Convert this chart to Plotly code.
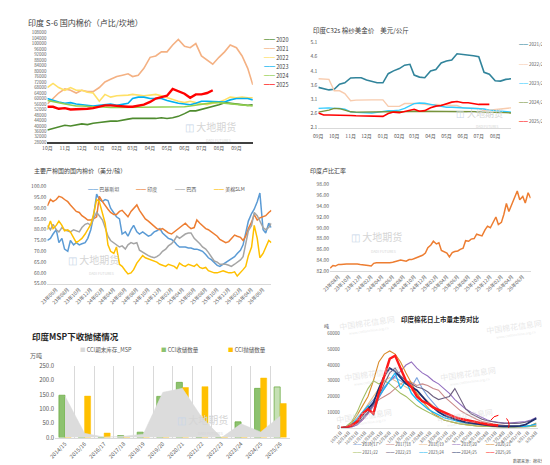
import plotly.graph_objects as go
import pandas as pd

W, H = 550, 465
FONT = "Noto Sans CJK SC"

# ---------------- Panel 1: 印度 S-6 国内棉价 ----------------
p1_months = [(2024, 10), (2024, 11), (2024, 12), (2025, 1), (2025, 2), (2025, 3),
             (2025, 4), (2025, 5), (2025, 6), (2025, 7), (2025, 8), (2025, 9)]
p1_dates = [f"{y}-{m:02d}-{d:02d}" for y, m in p1_months for d in (1, 11, 21)] + ["2025-09-30"]
p1_names = ["2020", "2021", "2022", "2023", "2024", "2025"]
p1_2020 = [37000, 38000, 39500, 40500, 40000, 40500, 41500, 41000, 42000, 42500, 43000, 43500,
           43500, 44500, 45000, 45500, 45500, 45000, 45000, 45500, 46000, 45500, 46000, 47000,
           49000, 51000, 51000, 52000, 53000, 54000, 55500, 57000, 56500, 56000, 55500, 55000, 55500]
p1_2021 = [56000, 60000, 64000, 67000, 66000, 64000, 66000, 65000, 65000, 68000, 72000, 74000,
           76000, 77000, 78000, 76000, 77000, 82000, 90000, 91000, 94000, 94000, 99000, 103000,
           98000, 97000, 100000, 91000, 88000, 85000, 90000, 94000, 99000, 97000, 91000, 82000, 70000]
p1_2022 = [68000, 71000, 68000, 66000, 68000, 66000, 66000, 64500, 64000, 58000, 63000, 61000,
           62000, 62000, 62500, 63000, 62500, 62000, 62500, 63000, 62000, 60500, 59000, 58000,
           57000, 58000, 57000, 56000, 55500, 56500, 57500, 59000, 61000, 60500, 61000, 60500, 60500]
p1_2023 = [60000, 58500, 57500, 56500, 57000, 56000, 55500, 55000, 54500, 55000, 55500, 56000,
           55000, 55500, 56500, 60000, 61000, 61000, 60000, 60000, 60000, 58500, 57500, 56500,
           56000, 55500, 56500, 58000, 58000, 58000, 58000, 57500, 59000, 60000, 60000, 60000, 59000]
p1_2024 = [58500, 57500, 57000, 56000, 55000, 54500, 54500, 54000, 54000, 54000, 53500, 53500,
           53500, 53500, 53500, 53500, 53500, 54000, 54000, 54000, 54000, 54000, 54000, 54000,
           54000, 54500, 55000, 55500, 56500, 57000, 57000, 56500, 56000, 55500, 55000, 54500, 54500]
p1_2025 = [54000, 54000, 52500, 53000, 52000, 52000, 52000, 52500, 53000, 54000, 55000, 55000,
           54500, 54000, 54000, 54000, 54500, 55500, 57500, 60000, 61000, 62000, 67000, 65500,
           63500, 60500, 63000, 63000, 64000, 66000]
p1_series = [p1_2020, p1_2021, p1_2022, p1_2023, p1_2024, p1_2025]
p1_colors = ["#4E8B2E", "#F4B183", "#FFE066", "#00B0F0", "#92D050", "#FF0000"]
p1_widths = [1.6, 1.6, 1.6, 1.6, 1.6, 2.4]

# ---------------- Panel 2: 印度C32s 棉纱美金价 ----------------
p2_months = [(2025, 9), (2025, 10), (2025, 11), (2025, 12), (2026, 1), (2026, 2),
             (2026, 3), (2026, 4), (2026, 5), (2026, 6), (2026, 7), (2026, 8)]
p2_dates = [f"{y}-{m:02d}-{d:02d}" for y, m in p2_months for d in (1, 11, 21)] + ["2026-08-31"]
p2_names = ["2021/22", "2022/23", "2023/24", "2024/25", "2025/26"]
p2_2122 = [3.52, 3.48, 3.43, 3.45, 3.63, 3.68, 3.85, 3.86, 3.86, 3.78, 3.72, 3.68, 3.68, 4.0,
           4.1, 4.18, 4.3, 4.33, 3.95, 3.88, 3.86, 4.1, 4.15, 4.38, 4.45, 4.48, 4.7, 4.68, 4.65,
           4.63, 4.6, 4.05, 3.98, 3.75, 3.74, 3.8, 3.82]
p2_2223 = [3.82, 3.82, 3.8, 3.4, 3.4, 3.3, 3.05, 3.07, 3.08, 3.08, 3.08, 3.08, 3.08, 2.85,
           2.85, 2.85, 2.95, 2.95, 2.95, 2.95, 2.92, 2.9, 2.92, 2.92, 2.9, 2.88, 2.88, 2.8, 2.8,
           2.8, 2.78, 2.7, 2.72, 2.72, 2.75, 2.78, 2.8]
p2_2324 = [2.78, 2.8, 2.8, 2.78, 2.78, 2.75, 2.66, 2.64, 2.63, 2.62, 2.62, 2.64, 2.68, 2.7,
           2.7, 2.72, 2.78, 2.88, 2.95, 2.97, 2.96, 2.92, 2.88, 2.85, 2.82, 2.82, 2.81, 2.8, 2.8,
           2.79, 2.78, 2.76, 2.72, 2.7, 2.68, 2.66, 2.65]
p2_2425 = [2.65, 2.68, 2.72, 2.78, 2.77, 2.72, 2.66, 2.65, 2.65, 2.66, 2.66, 2.66, 2.66, 2.66,
           2.66, 2.67, 2.67, 2.67, 2.68, 2.68, 2.68, 2.68, 2.68, 2.68, 2.68, 2.68, 2.68, 2.67,
           2.67, 2.66, 2.66, 2.65, 2.65, 2.64, 2.63, 2.63, 2.62]
p2_2526 = [2.62, 2.55, 2.55, 2.55, 2.54, 2.53, 2.53, 2.52, 2.52, 2.5, 2.5, 2.5, 2.5, 2.6, 2.65,
           2.63, 2.68, 2.72, 2.75, 2.68, 2.7, 2.8, 2.86, 2.88, 2.95, 3.0, 3.02, 2.98, 2.98, 2.95,
           2.92, 2.92, 2.92]
p2_series = [p2_2122, p2_2223, p2_2324, p2_2425, p2_2526]
p2_colors = ["#31849B", "#F8CBAD", "#33CCFF", "#77933C", "#FF0000"]
p2_widths = [1.6, 1.4, 1.4, 1.4, 1.6]

# ---------------- Panel 3: 主要产棉国的国内棉价 ----------------
p3_dates = pd.date_range("2023-04-15", periods=79, freq="SMS")
p3_names = ["巴基斯坦", "印度", "巴西", "美棉SLM"]
p3_pak = [75, 76, 78, 80, 74, 76, 71, 70, 75, 73, 74, 73, 73.5, 74, 76, 80, 86, 96.5, 94, 93,
          94, 93.5, 90, 87.5, 86, 85, 78, 79, 77, 80, 82, 79, 78, 79, 78, 77, 77.5, 79, 79.5, 80.5,
          78.5, 77, 76, 75.5, 74.5, 73, 72, 72, 72, 71.5, 71.5, 71, 71, 70.5, 70, 68.5, 67, 66, 65,
          63.5, 63, 64, 65, 66, 66.5, 67.5, 69, 70.5, 73, 78, 84, 87.5, 89.5, 93, 97, 80, 78.5, 83, 81]
p3_ind = [91, 94, 93, 94, 95.5, 95, 94, 93, 91.5, 90, 88.5, 88, 86.5, 85.5, 84.5, 84.5, 85, 86,
          95.5, 93, 91, 89.5, 88, 87, 87, 88.5, 89, 87.5, 86, 88.5, 90, 91.5, 89, 87, 85, 84, 83,
          81.5, 80.5, 80, 80.5, 79.5, 78.5, 78, 79, 80, 81, 82, 83, 81.5, 80.5, 81, 84.5, 83, 82,
          80.5, 80, 79, 78, 77, 75.5, 74.5, 74, 74.5, 76, 77.5, 77, 76.5, 75, 77, 80.5, 83.5, 87,
          84.5, 85.5, 86, 86.5, 88, 89]
p3_bra = [82, 80, 82.5, 80, 79, 81, 80, 79.5, 79, 80, 79.5, 79, 81, 82.5, 83, 82, 85, 88, 86.5,
          84.5, 81, 77, 75, 74, 73, 72, 72.5, 71, 73, 74, 73.5, 74, 70.5, 69.5, 69, 68, 67.5, 67,
          67.5, 68.5, 70, 71, 72.5, 73.5, 75, 77, 76, 77, 78, 78.5, 78.5, 76, 75, 73.5, 72, 71,
          69.5, 67.5, 65.5, 65, 64, 64, 64, 63.5, 63, 64, 65, 66, 67.5, 74, 79.5, 82, 88, 86.5, 84,
          81, 80, 81, 83]
p3_us = [80, 84, 80.5, 82, 84, 82, 79.5, 80, 79, 76, 74, 75, 76, 78, 80, 82.5, 87, 94, 93, 88,
         83, 73, 70, 69, 72, 64, 63, 61, 59.5, 60, 61.5, 64.5, 66, 68, 67, 66.5, 66, 65.5, 65, 64,
         63.5, 63, 64, 63.5, 63, 62, 64.5, 63.5, 63, 64, 63.5, 63, 64, 62.5, 62, 62.5, 61, 60.5, 60,
         60, 60.5, 61, 60.5, 60, 60, 60.5, 58.5, 60, 61.5, 63, 68, 72, 82, 76, 67, 69, 72, 75, 74]
p3_series = [p3_pak, p3_ind, p3_bra, p3_us]
p3_colors = ["#5B9BD5", "#ED7D31", "#A5A5A5", "#FFC000"]

# ---------------- Panel 4: 印度卢比汇率 ----------------
p4_dates = pd.date_range("2023-06-15", periods=75, freq="SMS")
p4_inr = [82.5, 83.0, 82.9, 83.2, 83.2, 83.3, 83.3, 83.3, 83.3, 83.4, 83.3, 83.2, 83.1, 83.1,
          83.0, 82.9, 83.4, 83.5, 83.5, 83.4, 83.4, 83.5, 83.5, 83.6, 83.8, 83.9, 84.0, 83.9, 83.8,
          84.1, 84.1, 84.3, 84.5, 84.6, 84.9, 85.3, 86.3, 86.8, 87.5, 87.0, 87.2, 85.8, 85.6, 85.3,
          84.6, 85.4, 85.6, 85.7, 86.0, 86.2, 87.6, 87.5, 87.9, 88.0, 88.8, 88.7, 88.5, 89.6, 90.3,
          90.0, 90.8, 92.0, 90.6, 91.0, 92.5, 94.5, 93.0, 94.5, 95.5, 96.8, 95.2, 95.8, 94.6, 96.5, 95.5]

# ---------------- Panel 5: 印度MSP下收抛储情况 ----------------
p5_seasons = ["2014/15", "2015/16", "2016/17", "2017/18", "2018/19", "2019/20",
              "2020/21", "2021/22", "2022/23", "2023/24", "2024/25", "2025/26"]
p5_names = ["CCI期末库存_MSP", "CCI收储数量", "CCI抛储数量"]
p5_stock = [145, 15, 2, 5, 12, 158, 172, 70, 0, 48, 20, 75]
p5_buy = [148, 16, 1, 7, 19, 144, 193, 0, 0, 55, 172, 177]
p5_sell = [3, 145, 16, 3, 4, 3, 175, 178, 2, 2, 208, 119]
p5_buy_fill = ["#8DC26F"] * 11 + ["#C5E0B4"]

# ---------------- Panel 6: 印度棉花日上市量走势对比 ----------------
p6_dates = pd.date_range("2025-10-01", periods=37, freq="10D")
p6_names = ["2016/17", "2017/18", "2018/19", "2019/20", "2020/21",
            "2021/22", "2022/23", "2023/24", "2024/25", "2025/26"]
s1617 = [0, 0, 1000, 4000, 9000, 14000, 18000, 22000, 26000, 30000, 32000, 30000, 28000, 26000,
         32000, 25000, 20000, 16000, 12000, 9000, 7000, 5500, 4500, 3500, 3000, 2500, 2000, 1500,
         1000, 800, 600, 500, 400, 400, 500, 800, 1500]
s1718 = [0, 0, 500, 2000, 5000, 9000, 14000, 18000, 20000, 22000, 25000, 28000, 30000, 29000,
         27000, 28000, 27000, 25000, 24000, 20000, 17000, 14000, 11000, 9000, 7000, 5500, 4000,
         3000, 2500, 2000, 1500, 1200, 1000, 900, 900, 1200, 2000]
s1819 = [0, 500, 2000, 5000, 10000, 15000, 20000, 25000, 30000, 32000, 30000, 28000, 26000,
         24000, 22000, 20000, 17000, 14000, 11000, 8000, 6000, 4500, 3500, 2800, 2200, 1800, 1500,
         1200, 1000, 800, 700, 600, 500, 500, 600, 800, 1200]
s1920 = [0, 0, 500, 2000, 5000, 9000, 14000, 19000, 25000, 30000, 33000, 36000, 40000, 42000,
         38000, 35000, 33000, 30000, 28000, 25000, 22000, 18000, 15000, 12000, 10000, 8000, 6500,
         5000, 4000, 3500, 3000, 3000, 3200, 3500, 4000, 5000, 6500]
s2021 = [0, 500, 3000, 8000, 14000, 20000, 30000, 42000, 47000, 49000, 47000, 42000, 35000,
         28000, 22000, 17000, 13000, 9000, 7000, 5000, 4000, 3000, 2500, 2000, 1500, 1200, 1000,
         800, 700, 600, 500, 500, 500, 600, 800, 1500, 3000]
s2122 = [0, 1000, 4000, 10000, 18000, 25000, 30000, 28000, 30000, 28000, 25000, 22000, 20000,
         17000, 14000, 12000, 10000, 8000, 6500, 5000, 4000, 3200, 2500, 2000, 1500, 1200, 1000,
         800, 600, 500, 400, 400, 400, 500, 600, 800, 1000]
s2223 = [0, 300, 1000, 3000, 6000, 10000, 15000, 20000, 28000, 35000, 38000, 33000, 30000,
         28000, 26000, 25000, 23000, 20000, 18000, 19000, 20000, 25000, 18000, 12000, 9000, 7000,
         5500, 4500, 3800, 3200, 3000, 2800, 2800, 3000, 3500, 4500, 6000]
s2324 = [0, 500, 2000, 6000, 10000, 14000, 8000, 20000, 25000, 30000, 35000, 25000, 30000,
         22000, 18000, 15000, 12000, 10000, 8000, 6500, 5500, 4500, 3800, 3200, 2800, 2400, 2000,
         1600, 1300, 1000, 800, 700, 700, 800, 1000, 1500, 2500]
s2425 = [0, 300, 1500, 4000, 8000, 12000, 16000, 25000, 33000, 38000, 36000, 32000, 28000,
         26000, 24000, 20000, 16000, 13000, 10000, 8000, 6500, 5500, 4500, 3500, 3000, 2500, 2000,
         1500, 1200, 1000, 900, 900, 1000, 1200, 2000, 4000, 6000]
s2526 = [0, 300, 1500, 4000, 9000, 12000, 9000, 22000, 33000, 44000, 46000, 38000, 30000, 26000,
         20000, 17000, 15500, 13000, 11500, 9500, 8000, 6800, 5800, 5000, 4200, 3500, 2800, 2200,
         1800, 1500]
p6_series = [s1617, s1718, s1819, s1920, s2021, s2122, s2223, s2324, s2425, s2526]
p6_colors = ["#7EA6E0", "#C98A8A", "#EBC08E", "#9470C0", "#D98B2B",
             "#A3BD62", "#6E6080", "#1BB7F2", "#1F2F6E", "#FF1A1A"]
p6_widths = [1.1, 1.1, 1.1, 1.1, 1.1, 1.1, 1.1, 1.3, 1.8, 2.4]

# ============================================================
fig = go.Figure()

for name, ys, c, w in zip(p1_names, p1_series, p1_colors, p1_widths):
    fig.add_trace(go.Scatter(x=p1_dates[:len(ys)], y=ys, name=name, mode="lines",
                             line=dict(color=c, width=w), xaxis="x", yaxis="y", showlegend=False))

for name, ys, c, w in zip(p2_names, p2_series, p2_colors, p2_widths):
    fig.add_trace(go.Scatter(x=p2_dates[:len(ys)], y=ys, name=name, mode="lines",
                             line=dict(color=c, width=w), xaxis="x2", yaxis="y2", showlegend=False))

for name, ys, c in zip(p3_names, p3_series, p3_colors):
    fig.add_trace(go.Scatter(x=p3_dates, y=ys, name=name, mode="lines",
                             line=dict(color=c, width=1.5), xaxis="x3", yaxis="y3", showlegend=False))

fig.add_trace(go.Scatter(x=p4_dates, y=p4_inr, name="印度卢比汇率", mode="lines",
                         line=dict(color="#ED7D31", width=1.5), xaxis="x4", yaxis="y4", showlegend=False))

fig.add_trace(go.Scatter(x=p5_seasons, y=p5_stock, name=p5_names[0], mode="lines",
                         fill="tozeroy", fillcolor="#DCDCDC", line=dict(color="#DCDCDC", width=0.5),
                         xaxis="x5", yaxis="y5", showlegend=False))
fig.add_trace(go.Bar(x=p5_seasons, y=p5_buy, name=p5_names[1],
                     marker=dict(color=p5_buy_fill, line=dict(color="#70AD47", width=0.8)),
                     xaxis="x5", yaxis="y5", showlegend=False))
fig.add_trace(go.Bar(x=p5_seasons, y=p5_sell, name=p5_names[2],
                     marker=dict(color="#FFC000", line=dict(color="#FFC000", width=0.5)),
                     xaxis="x5", yaxis="y5", showlegend=False))

for name, ys, c, w in zip(p6_names, p6_series, p6_colors, p6_widths):
    fig.add_trace(go.Scatter(x=p6_dates[:len(ys)], y=ys, name=name, mode="lines",
                             line=dict(color=c, width=w), xaxis="x6", yaxis="y6", showlegend=False))


def xd(a, b):
    return [a / W, b / W]


def yd(top, bottom):
    return [1 - bottom / H, 1 - top / H]


tick_c = "#595959"
base_ax = dict(showgrid=False, zeroline=False, ticks="", tickfont=dict(size=5, color=tick_c, family=FONT))

fig.update_layout(
    width=W, height=H, margin=dict(l=0, r=0, t=0, b=0),
    paper_bgcolor="white", plot_bgcolor="white",
    font=dict(family=FONT, color="#404040"),
    showlegend=False,
    barmode="group", bargap=0.38, bargroupgap=0.0,
    xaxis=dict(base_ax, domain=xd(28, 238), anchor="y", type="date",
               range=["2024-10-01", "2025-09-30"], tickformat="%m月", dtick="M1", tick0="2024-10-01",
               showline=True, linecolor="#404040", linewidth=1.5),
    yaxis=dict(base_ax, domain=yd(20, 132), anchor="x", range=[28000, 108000], dtick=4000,
               tick0=28000, tickformat="d", tickfont=dict(size=4.4, color=tick_c, family=FONT)),
    xaxis2=dict(base_ax, domain=xd(305, 502), anchor="y2", type="date",
                range=["2025-09-01", "2026-08-31"], tickformat="%m月", dtick="M1", tick0="2025-09-01",
                showline=True, linecolor="#D9D9D9", linewidth=1, ticklabelstandoff=3),
    yaxis2=dict(base_ax, domain=yd(30, 117), anchor="x2", range=[2.1, 5.1], dtick=0.5, tick0=2.1,
                tickformat=".1f"),
    xaxis3=dict(base_ax, domain=xd(28, 257), anchor="y3", type="date",
                range=["2023-04-15", "2026-07-15"], tickformat="%y年%m月", dtick="M2",
                tick0="2023-08-01", tickangle=-45, showline=True, linecolor="#D9D9D9", linewidth=1),
    yaxis3=dict(base_ax, domain=yd(177, 276), anchor="x3", range=[55, 100], dtick=5, tick0=55,
                tickformat=".2f"),
    xaxis4=dict(base_ax, domain=xd(317, 522), anchor="y4", type="date",
                range=["2023-06-15", "2026-07-15"], tickformat="%y年%m月", dtick="M2",
                tick0="2023-08-01", tickangle=-45, showline=True, linecolor="#D9D9D9", linewidth=1),
    yaxis4=dict(base_ax, domain=yd(175, 263), anchor="x4", range=[82, 98], dtick=2, tick0=82,
                tickformat=".2f"),
    xaxis5=dict(base_ax, domain=xd(36, 276), anchor="y5", type="category", tickson="boundaries",
                showgrid=True, gridcolor="#D9D9D9", gridwidth=1, tickangle=-45,
                showline=True, linecolor="#D9D9D9", tickfont=dict(size=5.5, color=tick_c, family=FONT)),
    yaxis5=dict(base_ax, domain=yd(360, 433), anchor="x5", range=[0, 250], dtick=50,
                tickformat=".1f", tickfont=dict(size=6, color=tick_c, family=FONT)),
    xaxis6=dict(base_ax, domain=xd(328, 530), anchor="y6", type="date",
                range=["2025-10-01", "2026-09-30"], tickformat="%-m月%-d日", dtick=15 * 86400000,
                tick0="2025-10-01", tickangle=-45, showline=True, linecolor="#D9D9D9",
                tickfont=dict(size=4, color=tick_c, family=FONT)),
    yaxis6=dict(base_ax, domain=yd(327, 423), anchor="x6", range=[0, 60000], dtick=10000,
                tickformat="d", tickfont=dict(size=4.5, color=tick_c, family=FONT)),
)

ann = []


def text_at(px_, py_, txt, size, color="#404040", anchor="left", bold=False, angle=0, yanchor="middle"):
    if bold:
        txt = f"<b>{txt}</b>"
    ann.append(dict(x=px_ / W, y=1 - py_ / H, xref="paper", yref="paper", xanchor=anchor,
                    yanchor=yanchor, showarrow=False, text=txt, textangle=angle,
                    font=dict(size=size, color=color, family=FONT)))


def legend_item(px_, py_, name, color, size, glyph="━━", tcolor="#404040"):
    ann.append(dict(x=px_ / W, y=1 - py_ / H, xref="paper", yref="paper", xanchor="left",
                    yanchor="middle", showarrow=False,
                    text=f"<span style='color:{color}'>{glyph}</span> {name}",
                    font=dict(size=size, color=tcolor, family=FONT)))


def watermark(px_, py_, size=11):
    text_at(px_, py_, "<span style='color:#C9D6E8'>◫</span> 大地期货", size, color="#D5D5D5",
            anchor="center", yanchor="bottom")
    text_at(px_ + size * 0.8, py_ + 0.5, "DADI FUTURES", size * 0.36, color="#D5D5D5",
            anchor="center", yanchor="top")


# titles
text_at(6, 10, "印度 S-6 国内棉价（卢比/坎地）", 8)
text_at(297, 17, "印度C32s 棉纱美金价 &nbsp; &nbsp;美元/公斤", 6.5)
text_at(12, 161, "主要产棉国的国内棉价（美分/磅）", 6)
text_at(294, 161, "印度卢比汇率", 6)
text_at(10, 329, "印度MSP下收抛储情况", 8.5, color="#262626", bold=True)
text_at(8, 349, "万吨", 6, color="#595959")
text_at(430, 312, "印度棉花日上市量走势对比", 6.5, color="#262626", anchor="center", bold=True)
text_at(309, 319, "吨", 5, color="#404040")
text_at(527, 457, "数据来源：棉花信息网CCI", 4, color="#595959", anchor="center")

# legends
for i, (n, c) in enumerate(zip(p1_names, p1_colors)):
    legend_item(247, 28 + i * 9.1, n, c, 5.5)
for i, (n, c) in enumerate(zip(p2_names, p2_colors)):
    legend_item(508, 32 + i * 19.5, n, c, 4.5, tcolor="#595959")
for xp, n, c in zip([67, 117, 156, 196], p3_names, p3_colors):
    legend_item(xp, 179, n, c, 5, tcolor="#595959")
for xp, n, c in zip([59, 142, 211], p5_names, ["#D9D9D9", "#8DC26F", "#FFC000"]):
    legend_item(xp, 344, n, c, 5.5, glyph="■", tcolor="#595959")
for i, (n, c) in enumerate(zip(p6_names, p6_colors)):
    col, row = i % 5, i // 5
    legend_item(338 + col * 34, 440 + row * 8, n, c, 4.2, tcolor="#595959")

# watermarks
watermark(195, 125, 10)
watermark(470, 111, 9)
watermark(75, 261, 10)
watermark(364, 238, 10)
watermark(187, 424, 10)
for wx, wy in [(355, 316), (505, 320), (360, 368), (458, 368), (352, 410), (455, 410)]:
    text_at(wx, wy, "中国棉花信息网", 8, color="rgba(215,215,215,0.6)", anchor="center", angle=-8)
    text_at(wx + 2, wy + 8, "www.cottonchina.org.cn", 3.5, color="rgba(215,215,215,0.6)",
            anchor="center", angle=-8)

fig.update_layout(annotations=ann)

# dashed circle highlighting the recent arrivals
fig.add_shape(type="circle", xref="x6", yref="y6", x0="2026-07-02", x1="2026-08-07",
              y0=-4600, y1=8000, line=dict(color="#FF0000", width=1, dash="dash"))

fig.write_html("out.html")
